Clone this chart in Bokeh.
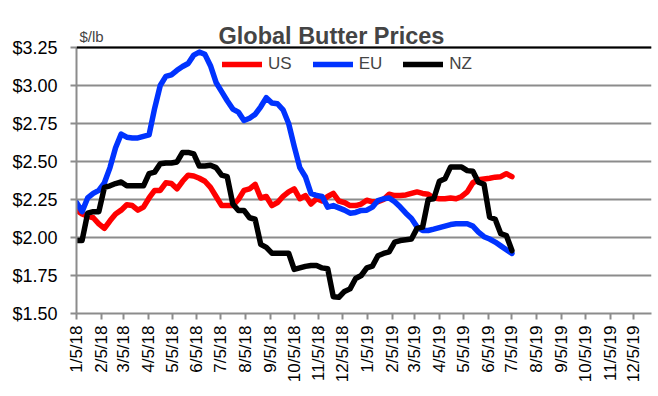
import pandas as pd
from bokeh.plotting import figure
from bokeh.models import (Range1d, FixedTicker, Legend, LegendItem, Label, Span)
from bokeh.embed import file_html
from bokeh.resources import INLINE

# ---- data (weekly) ----
start_date = "2018-01-05"
n_weeks = 79
us = [2.18, 2.155, 2.14, 2.13, 2.09, 2.06, 2.11, 2.155, 2.18, 2.215,
      2.21, 2.18, 2.20, 2.26, 2.31, 2.31, 2.36, 2.355, 2.32, 2.37,
      2.41, 2.405, 2.39, 2.37, 2.33, 2.27, 2.21, 2.21, 2.21, 2.25,
      2.31, 2.32, 2.35, 2.26, 2.27, 2.21, 2.23, 2.27, 2.30, 2.32,
      2.255, 2.276, 2.22, 2.255, 2.24, 2.27, 2.29, 2.24, 2.23, 2.21,
      2.21, 2.22, 2.245, 2.235, 2.235, 2.25, 2.285, 2.276, 2.276, 2.28,
      2.29, 2.30, 2.29, 2.285, 2.26, 2.255, 2.255, 2.26, 2.255, 2.27,
      2.30, 2.36, 2.38, 2.385, 2.39, 2.397, 2.40, 2.42, 2.40]
eu = [2.23, 2.17, 2.26, 2.29, 2.31, 2.36, 2.46, 2.59, 2.68, 2.66,
      2.655, 2.655, 2.665, 2.675, 2.85, 3.00, 3.06, 3.07, 3.10, 3.125,
      3.145, 3.20, 3.22, 3.205, 3.13, 3.02, 2.96, 2.90, 2.845, 2.825,
      2.77, 2.785, 2.81, 2.86, 2.92, 2.885, 2.88, 2.84, 2.75, 2.60,
      2.46, 2.40, 2.29, 2.276, 2.27, 2.20, 2.21, 2.195, 2.18, 2.16,
      2.165, 2.178, 2.18, 2.20, 2.243, 2.255, 2.26, 2.235, 2.20, 2.16,
      2.125, 2.07, 2.046, 2.046, 2.055, 2.065, 2.075, 2.085, 2.09, 2.09,
      2.09, 2.075, 2.035, 2.005, 1.99, 1.97, 1.945, 1.92, 1.895]
nz = [1.98, 1.98, 2.16, 2.17, 2.17, 2.33, 2.34, 2.355, 2.365, 2.34,
      2.34, 2.34, 2.34, 2.42, 2.43, 2.485, 2.49, 2.49, 2.497, 2.56,
      2.56, 2.55, 2.47, 2.47, 2.475, 2.46, 2.41, 2.40, 2.22, 2.178,
      2.178, 2.13, 2.12, 1.955, 1.935, 1.897, 1.897, 1.897, 1.897, 1.79,
      1.80, 1.81, 1.816, 1.816, 1.80, 1.794, 1.61, 1.607, 1.645, 1.662,
      1.73, 1.75, 1.80, 1.812, 1.88, 1.895, 1.905, 1.97, 1.98, 1.985,
      1.99, 2.06, 2.068, 2.25, 2.255, 2.37, 2.386, 2.463, 2.463, 2.463,
      2.44, 2.436, 2.364, 2.35, 2.134, 2.12, 2.025, 2.013, 1.914]
series_names = ["US", "EU", "NZ"]
series_colors = ["#FF0000", "#0033FF", "#000000"]

x_tick_labels = ["1/5/18", "2/5/18", "3/5/18", "4/5/18", "5/5/18", "6/5/18",
                 "7/5/18", "8/5/18", "9/5/18", "10/5/18", "11/5/18", "12/5/18",
                 "1/5/19", "2/5/19", "3/5/19", "4/5/19", "5/5/19", "6/5/19",
                 "7/5/19", "8/5/19", "9/5/19", "10/5/19", "11/5/19", "12/5/19"]
x_end_date = "2019-12-27"
y_ticks = [1.50, 1.75, 2.00, 2.25, 2.50, 2.75, 3.00, 3.25]
y_tick_labels = ["$1.50", "$1.75", "$2.00", "$2.25", "$2.50", "$2.75", "$3.00", "$3.25"]

dates = pd.date_range(start_date, periods=n_weeks, freq="7D")
tick_dates = pd.to_datetime(x_tick_labels, format="%m/%d/%y")
tick_ms = [float(d.value // 10**6) for d in tick_dates]

FONT = "Liberation Sans"
GRID = "#8C8C8C"

# frame: the value area is 266px tall; 47px of headroom above it holds title/legend
AREA_H, HEAD = 266, 47
FRAME_H = AREA_H + HEAD
y_top = y_ticks[-1] + (y_ticks[-1] - y_ticks[0]) * HEAD / AREA_H

p = figure(frame_width=575, frame_height=FRAME_H, x_axis_type="datetime",
           output_backend="svg", toolbar_location=None, title=None,
           min_border_left=76, min_border_right=7,
           min_border_top=0, min_border_bottom=80,
           x_range=Range1d(pd.Timestamp(start_date), pd.Timestamp(x_end_date)),
           y_range=Range1d(y_ticks[0], y_top))
p.outline_line_color = None
p.background_fill_color = "white"
p.border_fill_color = "white"

renderers = []
for name, vals, col in zip(series_names, [us, eu, nz], series_colors):
    r = p.line(dates, vals, line_color=col, line_width=5.5,
               line_join="round", line_cap="round")
    renderers.append(r)

# axes
p.xaxis.ticker = FixedTicker(ticks=tick_ms)
p.xaxis.major_label_overrides = {t: lab for t, lab in zip(tick_ms, x_tick_labels)}
p.xaxis.major_label_orientation = 1.5707963
p.yaxis.ticker = FixedTicker(ticks=y_ticks)
p.yaxis.major_label_overrides = {t: lab for t, lab in zip(y_ticks, y_tick_labels)}
p.yaxis.bounds = (y_ticks[0], y_ticks[-1])
for ax in (p.xaxis, p.yaxis):
    ax.axis_label = None
    ax.axis_label_standoff = 0
    ax.axis_line_color = GRID
    ax.axis_line_width = 2
    ax.major_tick_line_color = GRID
    ax.major_tick_line_width = 2
    ax.major_tick_out = 6
    ax.major_tick_in = 0
    ax.minor_tick_line_color = None
    ax.major_label_text_font = FONT
    ax.major_label_text_color = "black"
p.xaxis.major_label_text_font_size = "17px"
p.xaxis.major_label_standoff = 6
p.yaxis.major_label_text_font_size = "18px"
p.yaxis.major_label_standoff = 13

p.xgrid.grid_line_color = None
p.ygrid.grid_line_color = GRID
p.ygrid.grid_line_width = 2
p.add_layout(Span(location=y_ticks[-1], dimension="width",
                  line_color="black", line_width=2))

legend = Legend(items=[LegendItem(label=n, renderers=[r])
                       for n, r in zip(series_names, renderers)],
                orientation="horizontal", location=(146, 239),
                glyph_width=40, glyph_height=20, label_height=20,
                label_standoff=6, spacing=21, padding=0, margin=0,
                border_line_alpha=0, background_fill_alpha=0,
                label_text_font=FONT, label_text_font_size="17px")
p.add_layout(legend)

p.add_layout(Label(x=142, y=278, x_units="screen", y_units="screen",
                   text="Global Butter Prices", text_font=FONT,
                   text_font_size="23.5px", text_font_style="bold",
                   text_baseline="alphabetic"))
p.add_layout(Label(x=3, y=277, x_units="screen", y_units="screen",
                   text="$/lb", text_font=FONT, text_font_size="15px",
                   text_baseline="alphabetic"))

open("out.html", "w").write(file_html(p, INLINE))
